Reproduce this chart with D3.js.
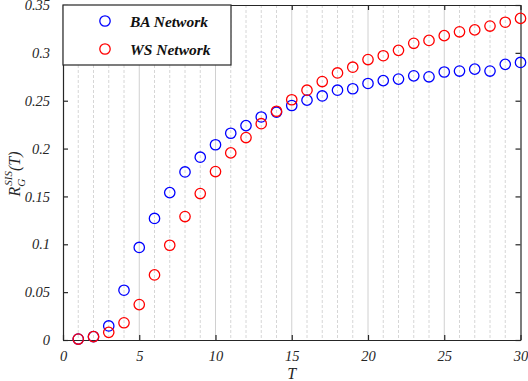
<!DOCTYPE html>
<html><head><meta charset="utf-8">
<script src="https://cdn.jsdelivr.net/npm/d3@7"></script>
<style>
body{margin:0;background:#fff;}
text{font-family:"Liberation Serif" !important;}
</style></head>
<body><svg id="c" width="528" height="381" font-family="Liberation Serif"></svg>
<script>
const T = d3.range(1, 31);
const baValues = [0.001,0.0035,0.0147,0.052,0.0967,0.127,0.154,0.1756,0.191,0.204,0.216,0.224,0.233,0.238,0.245,0.2506,0.255,0.261,0.2625,0.268,0.271,0.2726,0.276,0.275,0.280,0.281,0.283,0.281,0.288,0.290];
const wsValues = [0.001,0.0035,0.008,0.018,0.037,0.068,0.099,0.129,0.153,0.176,0.1955,0.2115,0.226,0.239,0.251,0.261,0.270,0.279,0.285,0.293,0.297,0.3026,0.310,0.313,0.318,0.322,0.324,0.328,0.332,0.336];
const xTicks = [0,5,10,15,20,25,30];
const yTicks = [0,0.05,0.1,0.15,0.2,0.25,0.3,0.35];
const yTickLabels = ["0","0.05","0.1","0.15","0.2","0.25","0.3","0.35"];
const seriesNames = ["BA Network","WS Network"];
const seriesColors = ["#0000ff","#ff0000"];

const svg = d3.select("#c");
const L = 63, R = 520.5, Tp = 5, B = 340;
const x = d3.scaleLinear().domain([0,30]).range([L,R]);
const y = d3.scaleLinear().domain([0,0.35]).range([B,Tp]);

// grid
const g = svg.append("g");
g.selectAll("line.grid").data(d3.range(1,30)).enter().append("line")
  .attr("x1", d=>x(d)).attr("x2", d=>x(d)).attr("y1", Tp).attr("y2", B)
  .attr("stroke", d=> d%5===0 ? "#d0d0d0" : "#d6d6d6")
  .attr("stroke-width", 1)
  .attr("stroke-dasharray", d=> d%5===0 ? null : "3,2");

// axes
const axCol = "#262626";
const xb = svg.append("g").attr("transform",`translate(0,${B})`)
  .call(d3.axisBottom(x).tickValues(xTicks).tickSizeInner(-5).tickSizeOuter(0).tickPadding(11).tickFormat(d3.format("d")));
const xt = svg.append("g").attr("transform",`translate(0,${Tp})`)
  .call(d3.axisTop(x).tickValues(xTicks).tickSizeInner(-5).tickSizeOuter(0).tickFormat(""));
const yl = svg.append("g").attr("transform",`translate(${L},0)`)
  .call(d3.axisLeft(y).tickValues(yTicks).tickSizeInner(-5).tickSizeOuter(0).tickPadding(13).tickFormat((d,i)=>yTickLabels[i]));
const yr = svg.append("g").attr("transform",`translate(${R},0)`)
  .call(d3.axisRight(y).tickValues(yTicks).tickSizeInner(-5).tickSizeOuter(0).tickFormat(""));
[xb,xt,yl,yr].forEach(a=>{
  a.attr("font-family", "Liberation Serif").attr("font-size", 14.5).attr("font-style","italic");
  a.select(".domain").attr("stroke",axCol).attr("stroke-width",1.2);
  a.selectAll(".tick line").attr("stroke",axCol).attr("stroke-width",1.2);
  a.selectAll(".tick text").attr("fill",axCol);
});

// data
const series = [baValues, wsValues];
series.forEach((vals,si)=>{
  svg.append("g").selectAll("circle").data(T).enter().append("circle")
    .attr("cx", d=>x(d)).attr("cy",(d,i)=>y(vals[i])).attr("r",5.2)
    .attr("fill","none").attr("stroke",seriesColors[si]).attr("stroke-width",1.3);
});

// legend
const lg = svg.append("g");
lg.append("rect").attr("x",L).attr("y",Tp).attr("width",168).attr("height",60)
  .attr("fill","#fff").attr("stroke","#262626").attr("stroke-width",1.2);
seriesNames.forEach((n,i)=>{
  const cy = 21 + i*28;
  lg.append("circle").attr("cx",105).attr("cy",cy).attr("r",5.2)
    .attr("fill","none").attr("stroke",seriesColors[i]).attr("stroke-width",1.3);
  lg.append("text").attr("x",130).attr("y",cy+5.5).text(n)
    .attr("font-style","italic").attr("font-weight","bold")
    .attr("font-size",15.5).attr("fill","#111");
});

// axis labels
svg.append("text").attr("x",(L+R)/2).attr("y",379).attr("text-anchor","middle")
  .attr("font-style","italic").attr("font-size",16)
  .attr("fill",axCol).text("T");
const yt = svg.append("text").attr("transform","translate(20,174) rotate(-90)")
  .attr("text-anchor","middle").attr("fill",axCol)
  .attr("font-style","italic").attr("font-size",16);
yt.append("tspan").text("R");
yt.append("tspan").attr("font-size",11).attr("dy",5).text("G");
yt.append("tspan").attr("font-size",11).attr("dx",-7).attr("dy",-13).text("SIS");
yt.append("tspan").attr("dy",8).text("(T)");
</script></body></html>
